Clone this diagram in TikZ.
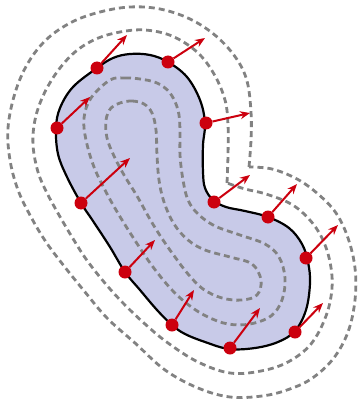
\documentclass[tikz,border=0pt]{standalone}
\usetikzlibrary{arrows.meta}
\definecolor{blobfill}{RGB}{200,202,232}
\definecolor{dashgray}{RGB}{130,130,130}
\definecolor{vecred}{RGB}{204,0,14}
\tikzset{
  offsetline/.style={draw=dashgray, line width=2.8pt, dash pattern=on 6pt off 4pt},
  boundary/.style={draw=black, line width=2.2pt, fill=blobfill},
  dot/.style={circle, fill=vecred, inner sep=0pt, minimum size=13pt},
  vec/.style={draw=vecred, line width=2pt, -{Stealth[length=10pt,width=8pt]}}
}
\begin{document}
\begin{tikzpicture}[x=1pt,y=-1pt]
\useasboundingbox (0,0) rectangle (358,401);
% outer offset curves
\draw[offsetline] plot[smooth, tension=0.6] coordinates {(249,167) (251,140) (251,112) (247,81) (236,58) (216,36) (190,19) (160,9) (130,7) (100,12) (72,22) (47,39) (28,63) (15,93) (8,128) (10,160) (18,190) (31,217) (46,242) (64,266) (85,292) (107,318) (135,343) (165,370) (198,388) (230,397) (262,396) (287,390) (311,379) (333,359) (348,332) (355,300) (355,268) (348,238) (336,213) (318,194) (297,179) (272,169) (249,167)};
\draw[offsetline] plot[smooth, tension=0.6] coordinates {(227,183) (228,155) (228,125) (225,100) (214,74) (197,52) (172,36) (145,30) (120,32) (96,39) (75,52) (57,72) (43,96) (35,120) (33,145) (38,172) (47,193) (59,215) (72,237) (86,259) (104,282) (123,303) (145,324) (168,343) (198,362) (230,373) (261,371) (288,362) (311,344) (326,316) (332,288) (330,262) (322,238) (309,219) (291,204) (266,194) (245,189) (227,183)};
% main shape
\path[boundary] plot[smooth cycle, tension=0.6] coordinates {(97,68) (113,58) (130,54) (150,55) (168,62) (187,77) (200,100) (205,123) (203,145) (203,172) (205,188) (213,200) (226,207) (245,211) (268,217) (289,228) (302,244) (308,262) (310,283) (306,310) (295,331) (278,342) (255,348) (229,349) (205,342) (185,334) (172,325) (157,310) (140,290) (125,272) (110,247) (93,221) (81,203) (67,177) (58,154) (56,128) (60,108) (73,87)};
% inner offset curves
\draw[offsetline] plot[smooth cycle, tension=0.6] coordinates {(110,80) (125,78) (140,79) (157,83) (170,93) (178,110) (180,130) (180,155) (183,180) (188,200) (198,214) (215,226) (240,235) (265,244) (279,257) (285,278) (282,300) (271,316) (250,324) (228,324) (208,317) (190,306) (172,290) (153,267) (136,242) (119,215) (106,192) (94,167) (86,140) (84,118) (91,98)};
\draw[offsetline] plot[smooth cycle, tension=0.6] coordinates {(120,103) (132,101) (144,104) (152,113) (156,130) (157,155) (159,180) (164,202) (174,224) (188,240) (205,250) (230,257) (252,264) (261,280) (257,295) (242,300) (222,298) (203,289) (188,274) (175,257) (163,240) (151,221) (137,196) (124,175) (114,156) (107,138) (106,120) (111,108)};
% points and normals
\node[dot] (d1) at (97,68) {};
\node[dot] (d2) at (168,62) {};
\node[dot] (d3) at (57,128) {};
\node[dot] (d4) at (206,123) {};
\node[dot] (d5) at (81,203) {};
\node[dot] (d6) at (214,202) {};
\node[dot] (d7) at (268,217) {};
\node[dot] (d8) at (125,272) {};
\node[dot] (d9) at (306,258) {};
\node[dot] (d10) at (172,325) {};
\node[dot] (d11) at (230,348) {};
\node[dot] (d12) at (295,332) {};
\coordinate (t1) at (127,35);
\coordinate (t2) at (205,38);
\coordinate (t3) at (90,97);
\coordinate (t4) at (250,113);
\coordinate (t5) at (130,158);
\coordinate (t6) at (250,175);
\coordinate (t7) at (297,184);
\coordinate (t8) at (155,240);
\coordinate (t9) at (338,225);
\coordinate (t10) at (194,290);
\coordinate (t11) at (260,308);
\coordinate (t12) at (323,303);
\foreach \i in {1,...,12} { \draw[vec] (d\i) -- (t\i); }
\end{tikzpicture}
\end{document}
